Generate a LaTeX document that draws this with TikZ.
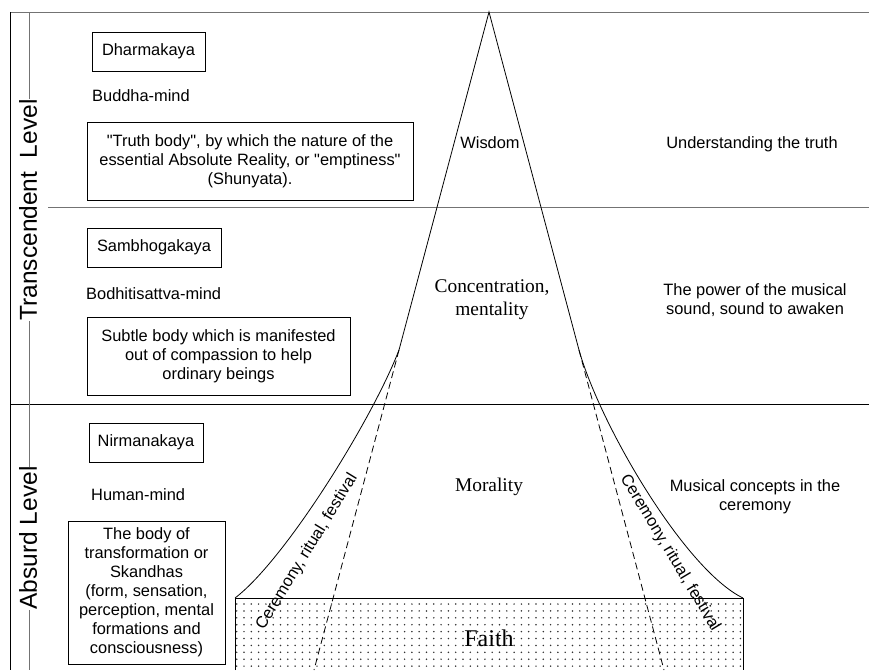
\documentclass[tikz,border=0pt]{standalone}
\usepackage{fontspec}
\setmainfont{Liberation Sans}
\newfontfamily\seriffam{Liberation Serif}
\begin{document}
\begin{tikzpicture}[x=1pt,y=-1pt,
  txt/.style={font=\fontsize{16.4}{19}\selectfont, inner sep=0pt, align=center},
  kbox/.style={draw, line width=0.8pt, inner sep=0pt, align=center, font=\fontsize{16.4}{19}\selectfont},
  stxt/.style={font=\seriffam\fontsize{19.4}{23}\selectfont, inner sep=0pt, align=center},
  lvl/.style={font=\fontsize{24.5}{28}\selectfont, inner sep=0pt, fill=white, rotate=90},
  grayline/.style={draw=black!55, line width=1pt},
  blackline/.style={draw=black, line width=0.9pt},
  edge/.style={draw=black, line width=0.8pt},
  dashedge/.style={draw=black, line width=0.8pt, dash pattern=on 7pt off 4pt},
  rit/.style={font=\fontsize{16.4}{19}\selectfont, inner sep=0pt}
]
\useasboundingbox (0,0) rectangle (869,670);
% frame lines
\coordinate (tl) at (10,12);
\coordinate (tr) at (869,12);
\coordinate (bl) at (10,670);
\coordinate (m1l) at (48,207);
\coordinate (m1r) at (869,207);
\coordinate (m2l) at (10,404);
\coordinate (m2r) at (869,404);
\coordinate (vt) at (29,12);
\coordinate (vb) at (29,670);
\draw[grayline] (tl) -- (tr);
\draw[grayline] (m1l) -- (m1r);
\draw[blackline] (m2l) -- (m2r);
\draw[blackline] (tl) -- (bl);
\draw[grayline] (vt) -- (vb);
\node[lvl] (trans) at (28,210) {Transcendent\ \ Level};
\node[lvl] (absurd) at (28,538) {Absurd Level};

% dotted base
\foreach \i in {0,...,69}{
  \foreach \j in {0,...,9}{
    \fill[black!80] (236.7+7.3*\i, 604+6.9*\j) circle (0.85pt);
  }
}
\coordinate (cornerL) at (235,598);
\coordinate (cornerR) at (743,598);
\coordinate (botL) at (235,670);
\coordinate (botR) at (743,670);
\draw[edge] (botL) -- (cornerL) -- (cornerR) -- (botR);

% pyramid
\coordinate (apex) at (489,12);
\coordinate (kinkL) at (399,350);
\coordinate (kinkR) at (579,350);
\coordinate (baseL) at (314,670);
\coordinate (baseR) at (664,670);
\draw[edge] (kinkL) -- (apex) -- (kinkR);
\draw[dashedge] (kinkL) -- (baseL);
\draw[dashedge] (kinkR) -- (baseR);
\draw[edge] (kinkL) .. controls (372,420) and (285,560) .. (cornerL);
\draw[edge] (kinkR) .. controls (600,425) and (685,570) .. (cornerR);

% left column
\node[kbox, minimum width=113pt, minimum height=39pt] (dharma) at (148.5,51.5) {Dharmakaya};
\node[txt, anchor=west] (buddha) at (92,96) {Buddha-mind};
\node[kbox, minimum width=326pt, minimum height=78pt] (truth) at (250,161)
  {\textquotedbl Truth body\textquotedbl, by which the nature of the\\essential Absolute Reality, or \textquotedbl emptiness\textquotedbl\\(Shunyata).};
\node[kbox, minimum width=134pt, minimum height=39pt] (sambho) at (154,247.5) {Sambhogakaya};
\node[txt, anchor=west] (bodhi) at (86,294) {Bodhitisattva-mind};
\node[kbox, minimum width=263pt, minimum height=78pt] (subtle) at (218.5,356)
  {Subtle body which is manifested\\out of compassion to help\\ordinary beings};
\node[kbox, minimum width=114pt, minimum height=39pt] (nirma) at (146,442.5) {Nirmanakaya};
\node[txt, anchor=west] (human) at (91,495) {Human-mind};
\node[kbox, minimum width=157pt, minimum height=143pt] (bodyt) at (146.5,592.5)
  {The body of\\transformation or\\Skandhas\\(form, sensation,\\perception, mental\\formations and\\consciousness)};

% pyramid labels
\node[txt] (wisdom) at (490,143) {Wisdom};
\node[stxt] (conc) at (492,300) {Concentration,\\mentality};
\node[stxt] (moral) at (489,487) {Morality};
\node[font=\seriffam\fontsize{24}{28}\selectfont, inner sep=0pt] (faith) at (489,638) {Faith};
\node[rit, rotate=58.5] (ritL) at (307,552) {Ceremony, ritual, festival};
\node[rit, rotate=-59] (ritR) at (670,553) {Ceremony, ritual, festival};

% right column
\node[txt] (under) at (752,144) {Understanding the truth};
\node[txt] (power) at (755,300) {The power of the musical\\sound, sound to awaken};
\node[txt] (music) at (755,497) {Musical concepts in the\\ceremony};
\end{tikzpicture}
\end{document}
